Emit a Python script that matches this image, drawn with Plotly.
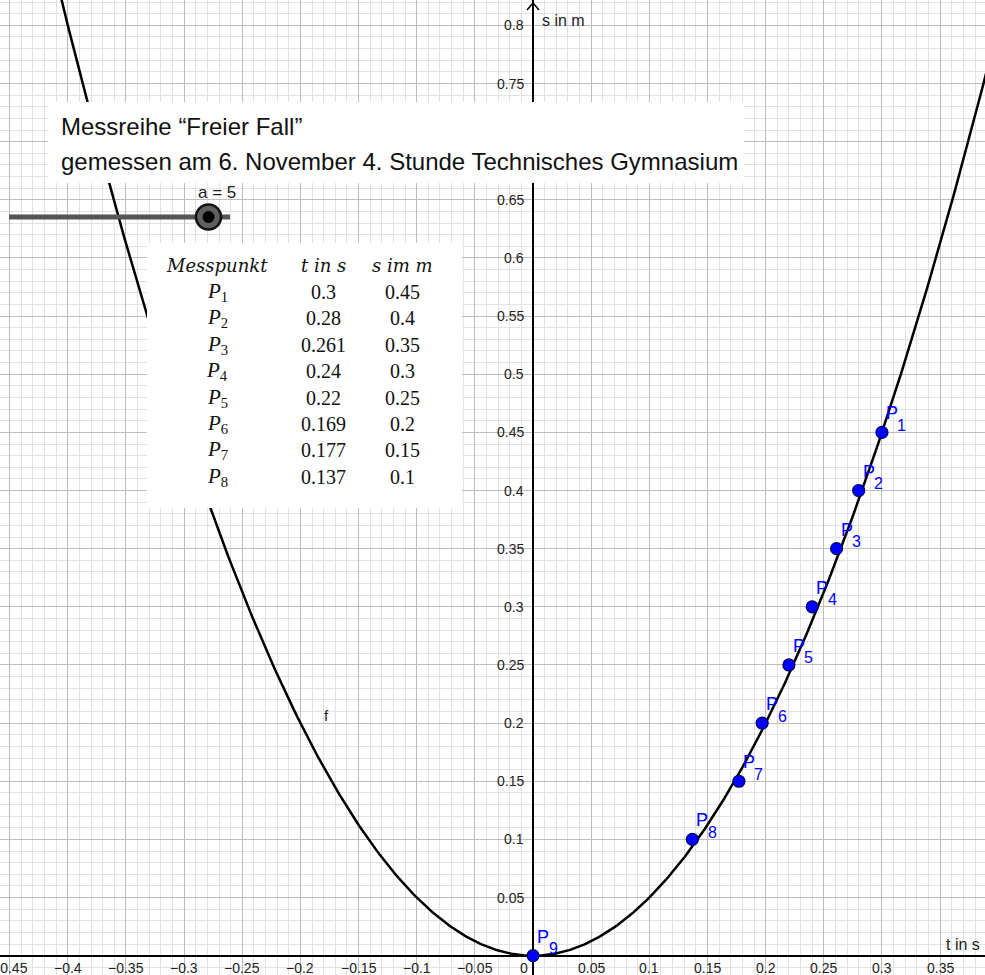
import numpy as np
import plotly.graph_objects as go

# ---------------- data ----------------
a_value = 5
point_labels = ["1", "2", "3", "4", "5", "6", "7", "8", "9"]
point_t = [0.3, 0.28, 0.261, 0.24, 0.22, 0.197, 0.177, 0.137, 0.0]
point_s = [0.45, 0.4, 0.35, 0.3, 0.25, 0.2, 0.15, 0.1, 0.0]

table_idx = ["1", "2", "3", "4", "5", "6", "7", "8"]
table_t = ["0.3", "0.28", "0.261", "0.24", "0.22", "0.169", "0.177", "0.137"]
table_s = ["0.45", "0.4", "0.35", "0.3", "0.25", "0.2", "0.15", "0.1"]
table_head = ["Messpunkt", "t in s", "s im m"]

x_ticks = [-0.45, -0.4, -0.35, -0.3, -0.25, -0.2, -0.15, -0.1, -0.05,
           0.05, 0.1, 0.15, 0.2, 0.25, 0.3, 0.35]
# 0.7 is hidden behind the title box in the reference
y_ticks = [0.05, 0.1, 0.15, 0.2, 0.25, 0.3, 0.35, 0.4, 0.45, 0.5, 0.55,
           0.6, 0.65, 0.75, 0.8]

title_lines = ["Messreihe \u201cFreier Fall\u201d",
               "gemessen am 6. November 4. Stunde Technisches Gymnasium"]

# ---------------- layout helpers ----------------
W, H = 985, 975
XR = [-0.4583, 0.3886]
YR = [-0.0166, 0.8218]


def px(x):
    return x / W


def py(y):
    return 1 - y / H


def fmt(v):
    s = ("%g" % abs(v))
    return ("\u2212" + s) if v < 0 else s


def txt(x, y, text, size, color="#222", family="Liberation Sans", xanchor="center", **kw):
    return dict(x=x, y=y, xref="paper", yref="paper", text=text, showarrow=False,
                xanchor=xanchor, yanchor="middle",
                font=dict(family=family, size=size, color=color), **kw)


fig = go.Figure()

# function curve f(x) = a x^2
xc = np.linspace(-0.46, 0.39, 600)
fig.add_trace(go.Scatter(x=xc, y=a_value * xc ** 2, mode="lines",
                         line=dict(color="black", width=2.5),
                         hoverinfo="skip", showlegend=False))

# measured points
fig.add_trace(go.Scatter(x=point_t, y=point_s, mode="markers",
                         marker=dict(size=12, color="#0000ff",
                                     line=dict(color="#00005a", width=1.2)),
                         showlegend=False))

ann = []
# point labels
for t, s, lab in zip(point_t, point_s, point_labels):
    ann.append(dict(x=t, y=s, xref="x", yref="y", text="P", showarrow=False,
                    xanchor="center", yanchor="middle", xshift=10, yshift=19,
                    font=dict(family="Liberation Sans", size=18, color="#0000ff")))
    ann.append(dict(x=t, y=s, xref="x", yref="y", text=lab, showarrow=False,
                    xanchor="center", yanchor="middle", xshift=20, yshift=7,
                    font=dict(family="Liberation Sans", size=16, color="#0000ff")))

# axis tick labels
for v in x_ticks:
    ann.append(dict(x=v, y=0, xref="x", yref="y", text=fmt(v), showarrow=False,
                    xanchor="center", yanchor="middle", yshift=-12,
                    font=dict(family="Liberation Sans", size=14, color="#222")))
ann.append(dict(x=0, y=0, xref="x", yref="y", text="0", showarrow=False,
                xanchor="center", yanchor="middle", xshift=-9, yshift=-12,
                font=dict(family="Liberation Sans", size=14, color="#222")))
for v in y_ticks:
    ann.append(dict(x=0, y=v, xref="x", yref="y", text=fmt(v), showarrow=False,
                    xanchor="right", yanchor="middle", xshift=-7,
                    font=dict(family="Liberation Sans", size=14, color="#222")))

# axis names
ann.append(txt(px(540), py(21), "s in m", 16, xanchor="left"))
ann.append(txt(px(982), py(944), "t in s", 16, xanchor="right"))
ann.append(txt(px(326), py(715), "f", 15))

# title
ann.append(txt(px(59), py(127), title_lines[0], 24, color="#111", xanchor="left"))
ann.append(txt(px(59), py(162), title_lines[1], 24, color="#111", xanchor="left"))

# slider label
ann.append(txt(px(217), py(193), "a = %g" % a_value, 17))

# table
col_x = [217, 323, 402]
row_y0, row_dy = 265.5, 26.4
for cx, h in zip(col_x, table_head):
    ann.append(txt(px(cx), py(row_y0), "<i>%s</i>" % h, 18, color="#111", family="DejaVu Serif"))
for i, (n, t, s) in enumerate(zip(table_idx, table_t, table_s)):
    yy = py(row_y0 + row_dy * (i + 1))
    ann.append(txt(px(col_x[0]), yy, "<i>P</i><sub>%s</sub>" % n, 21, color="#111",
                   family="Liberation Serif"))
    ann.append(txt(px(col_x[1]), yy, t, 20, color="#111", family="Liberation Serif"))
    ann.append(txt(px(col_x[2]), yy, s, 20, color="#111", family="Liberation Serif"))

shapes = [
    # y axis arrowhead
    dict(type="path", xref="paper", yref="paper",
         path="M %f %f L %f %f L %f %f" % (px(527), py(10), px(533), py(3), px(539), py(10)),
         line=dict(color="black", width=1.5), layer="above"),
    # title box
    dict(type="rect", xref="paper", yref="paper", x0=px(48), x1=px(744), y0=py(183), y1=py(102),
         fillcolor="white", line=dict(width=0), layer="above"),
    # table box
    dict(type="rect", xref="paper", yref="paper", x0=px(147), x1=px(462), y0=py(508), y1=py(243),
         fillcolor="white", line=dict(width=0), layer="above"),
    # slider track
    dict(type="line", xref="paper", yref="paper", x0=px(9), x1=px(230), y0=py(217), y1=py(217),
         line=dict(color="#555555", width=5), layer="above"),
    # slider knob
    dict(type="circle", xref="paper", yref="paper", x0=px(196), x1=px(221), y0=py(229.5), y1=py(204.5),
         fillcolor="#5f5f5f", line=dict(color="#111111", width=2.5), layer="above"),
    dict(type="circle", xref="paper", yref="paper", x0=px(202.5), x1=px(214.5), y0=py(223), y1=py(211),
         fillcolor="#000000", line=dict(width=0), layer="above"),
]

axis_common = dict(showticklabels=False, ticks="", showline=False,
                   showgrid=True, gridcolor="#bdbdbd", gridwidth=1,
                   zeroline=True, zerolinecolor="black", zerolinewidth=1.5,
                   tick0=0, dtick=0.05,
                   minor=dict(dtick=0.01, showgrid=True, gridcolor="#e2e2e2", gridwidth=1),
                   fixedrange=True)

fig.update_layout(
    width=W, height=H,
    margin=dict(l=0, r=0, t=0, b=0),
    paper_bgcolor="white", plot_bgcolor="white",
    xaxis=dict(range=XR, **axis_common),
    yaxis=dict(range=YR, **axis_common),
    annotations=ann, shapes=shapes,
    showlegend=False,
)

fig.write_html("out.html", config={"displayModeBar": False},
               post_script="document.body.style.margin='0';document.body.style.overflow='hidden';")
